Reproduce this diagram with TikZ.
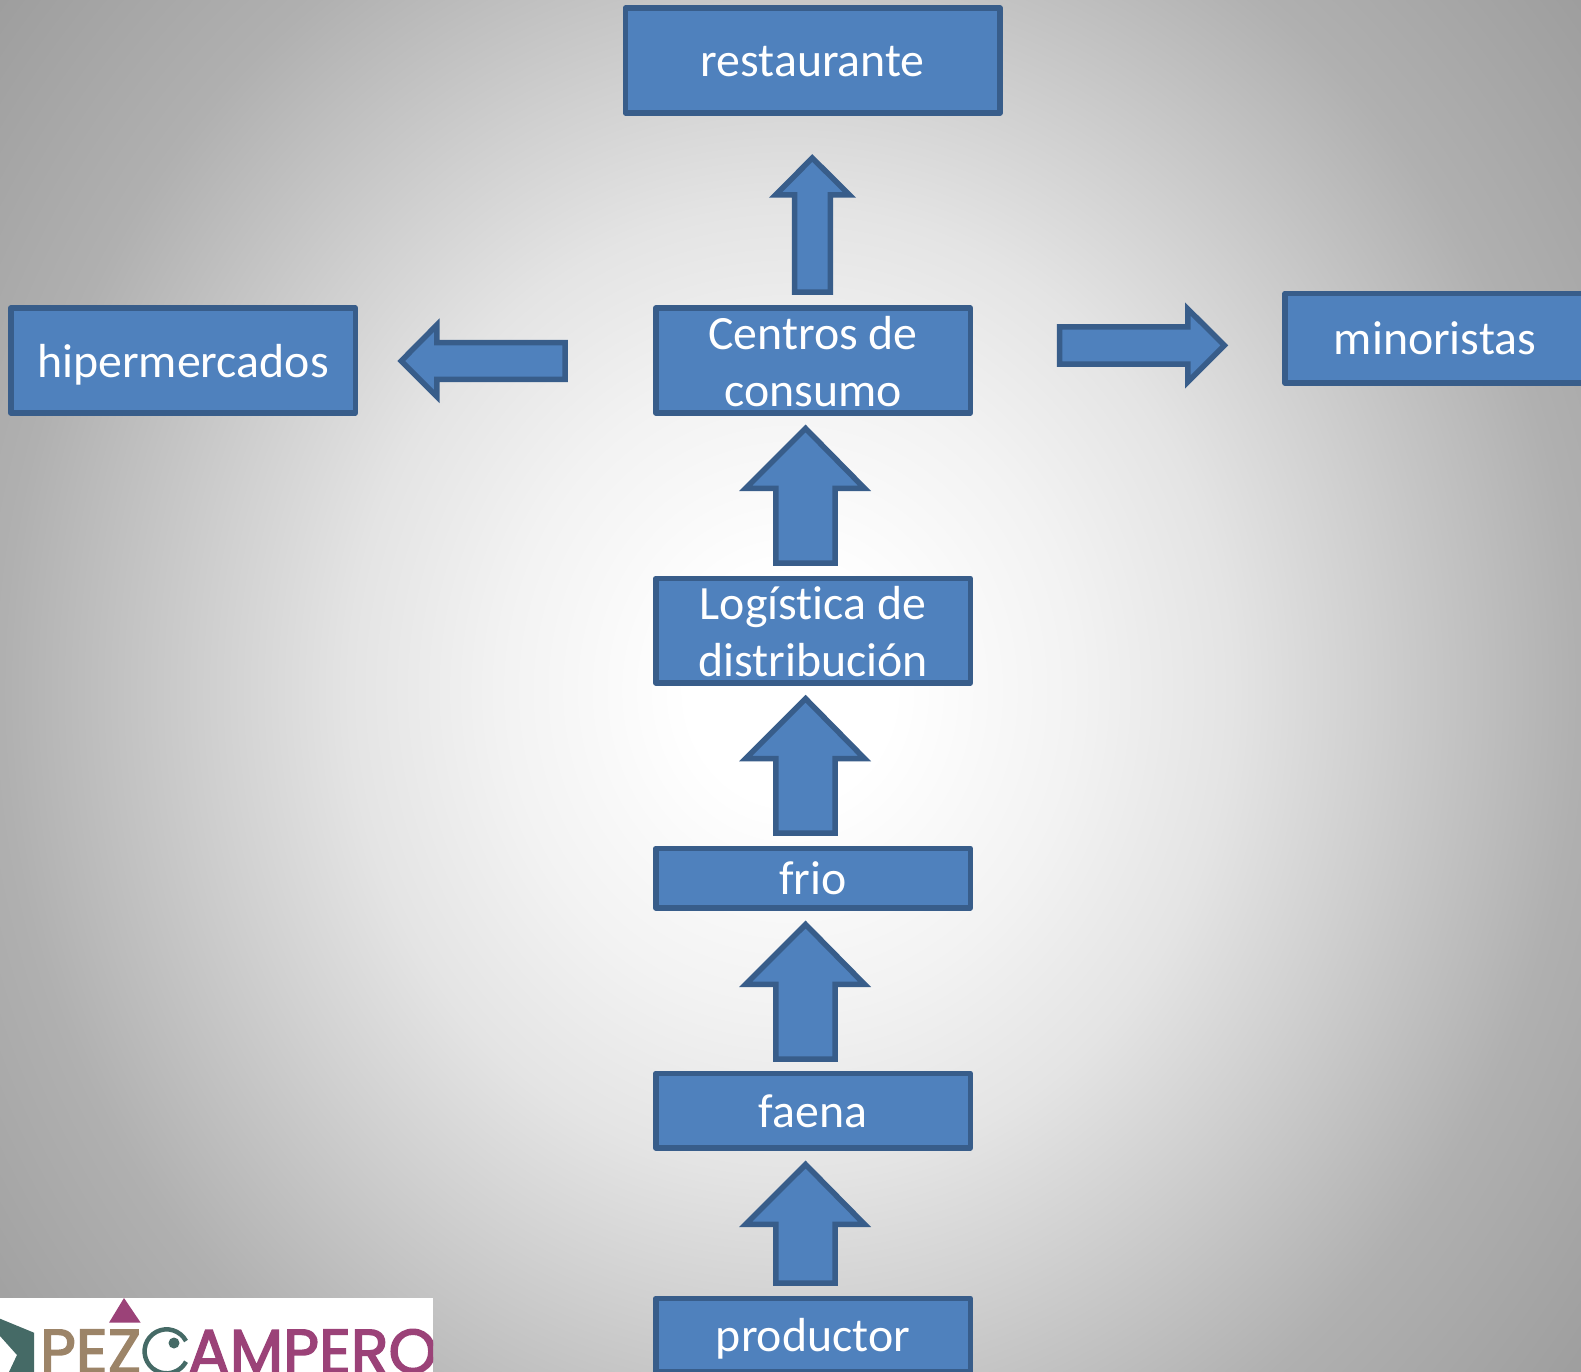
\documentclass[tikz,border=0pt]{standalone}
\usepackage{fontspec}
\setmainfont[Ligatures=CommonOff]{Carlito}
\newfontfamily\logofont[FakeBold=2.5]{Poppins}
\definecolor{boxfill}{HTML}{4F81BD}
\definecolor{boxline}{HTML}{385D8A}
\definecolor{logopurple}{HTML}{9B4278}
\definecolor{logotan}{HTML}{9C8468}
\definecolor{logoteal}{HTML}{456A66}
\pgfdeclareradialshading{slidebg}{\pgfpoint{0bp}{0bp}}{
  color(0bp)=(white);
  color(2.4bp)=(white);
  color(6.84bp)=(white!95!black);
  color(10.4bp)=(white!89.4!black);
  color(13.6bp)=(white!81.6!black);
  color(18.6bp)=(white!69!black);
  color(23.8bp)=(white!62!black);
  color(50bp)=(white!62!black)}
\tikzset{
  flowbox/.style={draw=boxline,fill=boxfill,line width=5.5pt,line join=round,text=white,
    inner sep=0pt,outer sep=0pt,align=center,text height=33pt,text depth=0pt,
    font=\fontsize{47.8}{57.5}\selectfont},
  twolines/.style={text height=92pt},
  blockarrow/.style={draw=boxline,fill=boxfill,line width=5.5pt,line join=miter,miter limit=10},
  logotext/.style={inner sep=0pt,outer sep=0pt,anchor=base west,font=\logofont\fontsize{62}{62}\selectfont}
}
\newcommand{\upblock}[2]{% tip y, bottom y
  \draw[blockarrow] (805.6,#1) -- (864.5,#1+59.8) -- (835,#1+59.8) -- (835,#2) -- (775.8,#2) -- (775.8,#1+59.8) -- (745.7,#1+59.8) -- cycle;}
\begin{document}
\begin{tikzpicture}[x=1pt,y=-1pt]
\useasboundingbox (0,0) rectangle (1581,1372);
\begin{scope}
\clip (0,0) rectangle (1581,1372);
\fill[white!62!black] (0,0) rectangle (1581,1372);
\shade[shading=slidebg] (790,690) ellipse [x radius=1060,y radius=1160];

% boxes
\node[flowbox,minimum width=374.5,minimum height=105] (restaurante) at (812.7,60.5) {restaurante};
\node[flowbox,twolines,minimum width=314.5,minimum height=104.6] (centros) at (813,360.5) {Centros de\\consumo};
\node[flowbox,minimum width=344.5,minimum height=104.6] (hiper) at (183,360.5) {hipermercados};
\node[flowbox,minimum width=300,minimum height=89.5] (minoristas) at (1435,338.2) {minoristas};
\node[flowbox,twolines,minimum width=314.5,minimum height=104.6] (logistica) at (813,630.7) {Log\'istica de\\distribuci\'on};
\node[flowbox,minimum width=314.5,minimum height=59.4] (frio) at (813,878.2) {frio};
\node[flowbox,minimum width=314.5,minimum height=74.6] (faena) at (813,1110.6) {faena};
\node[flowbox,minimum width=314.5,minimum height=73] (productor) at (813,1335) {productor};

% block arrows
\draw[blockarrow] (812.3,158) -- (849.5,195) -- (830.3,195) -- (830.3,292.2) -- (794.5,292.2) -- (794.5,195) -- (775.5,195) -- cycle;
\upblock{428.5}{563}
\upblock{698.7}{833.2}
\upblock{924.5}{1059}
\upblock{1164.5}{1283}
\draw[blockarrow] (401.2,361) -- (436.8,325) -- (436.8,342.5) -- (565,342.5) -- (565,379.3) -- (436.8,379.3) -- (436.8,396.5) -- cycle;
\draw[blockarrow] (1224.4,345.4) -- (1187.8,309) -- (1187.8,326.8) -- (1059.5,326.8) -- (1059.5,364) -- (1187.8,364) -- (1187.8,382) -- cycle;

% logo
\fill[white] (0,1298) rectangle (433,1372);
\begin{scope}
\clip (0,1298) rectangle (433,1372);
\fill[logopurple] (109,1322.7) -- (140.7,1322.7) -- (124,1298) -- cycle;
\fill[logoteal] (0,1318.7) -- (34,1332.7) -- (34,1372) -- (9,1372) -- (17,1355) -- (0,1336) -- cycle;
\node[logotext,text=logotan] (pez) at (40,1373) {PEZ};
\node[logotext,text=logopurple] (campero) at (188,1373) {AMPERO};
\draw[logoteal,line width=4.5pt] (186,1341) arc[start angle=-28,delta angle=-304,radius=22];
\fill[logoteal] (174,1343) circle [radius=5.5];
\end{scope}
\end{scope}
\end{tikzpicture}
\end{document}
